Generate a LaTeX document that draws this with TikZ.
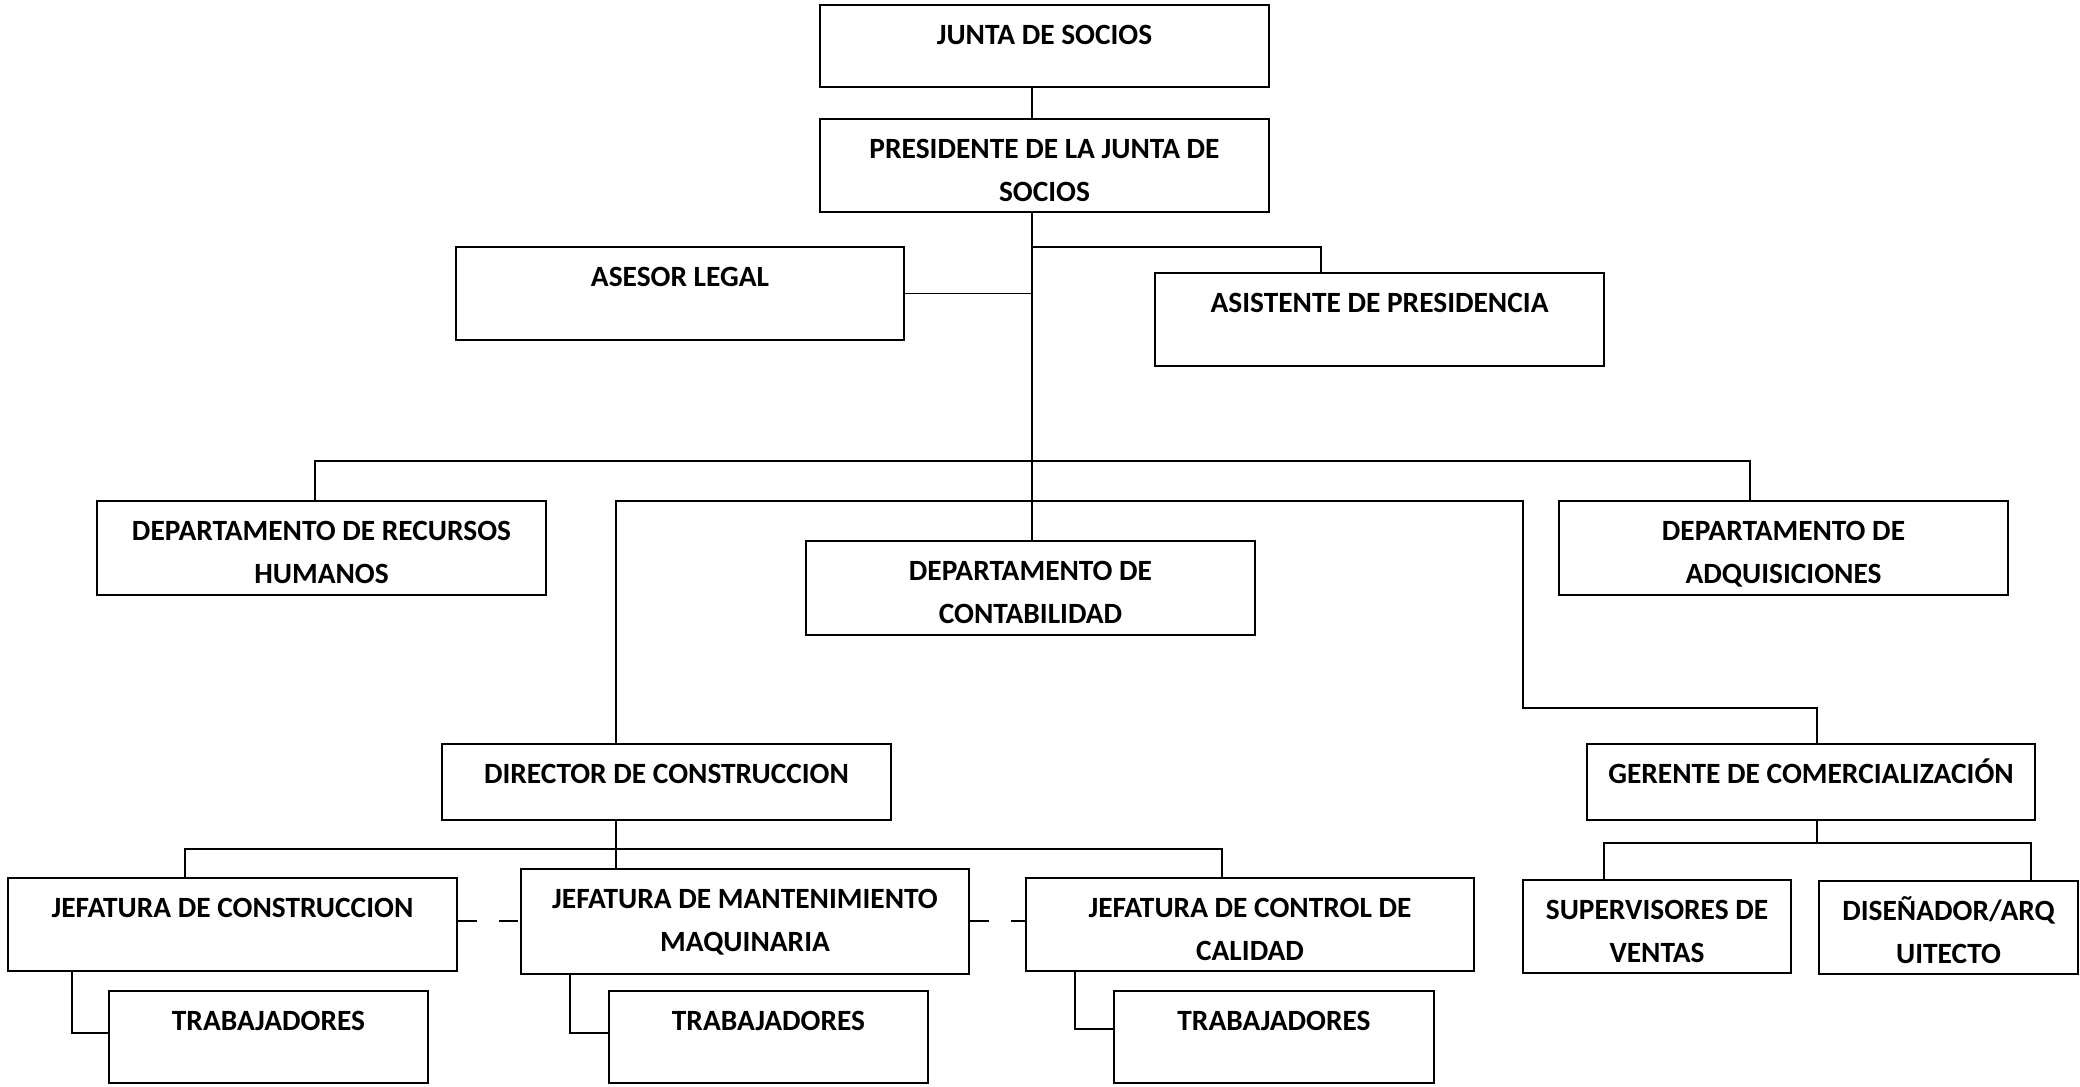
\documentclass[tikz,border=0pt]{standalone}
\usepackage{fontspec}
\setmainfont{Carlito}
\newcommand\orgbox[6]{%
  \node[box, minimum width={(#4-#2)*0.5pt}, minimum height={(#5-#3)*0.5pt}] (#1) at ({(#2+#4)/2},{(#3+#5)/2}) {};
  \node[lbl] (#1-t) at ([yshift=-20.2pt]#1.north) {#6};}
\newcommand\orgboxtwo[6]{%
  \node[box, minimum width={(#4-#2)*0.5pt}, minimum height={(#5-#3)*0.5pt}] (#1) at ({(#2+#4)/2},{(#3+#5)/2}) {};
  \node[lbl] (#1-t) at ([yshift=-41.7pt]#1.north) {#6};}
\begin{document}
\begin{tikzpicture}[x=0.5pt,y=-0.5pt,
  box/.style={draw, line width=0.9pt, inner sep=0pt},
  lbl/.style={font=\bfseries\fontsize{14.7}{21.5}\selectfont, align=center, anchor=base, inner sep=0pt},
  conn/.style={line width=0.7pt},
  dashline/.style={line width=0.7pt, dash pattern=on 9.5pt off 11pt}]
\fill[white] (0,0) rectangle (2080,1086);
\useasboundingbox (0,0) rectangle (2080,1086);
\orgbox{junta}{820}{5}{1269}{87}{JUNTA DE SOCIOS}
\orgboxtwo{pres}{820}{119}{1269}{212}{PRESIDENTE DE LA JUNTA DE\\SOCIOS}
\orgbox{asesor}{456}{247}{904}{340}{ASESOR LEGAL}
\orgbox{asist}{1155}{273}{1604}{366}{ASISTENTE DE PRESIDENCIA}
\orgboxtwo{rrhh}{97}{501}{546}{595}{DEPARTAMENTO DE RECURSOS\\HUMANOS}
\orgboxtwo{conta}{806}{541}{1255}{635}{DEPARTAMENTO DE\\CONTABILIDAD}
\orgboxtwo{adq}{1559}{501}{2008}{595}{DEPARTAMENTO DE\\ADQUISICIONES}
\orgbox{dir}{442}{744}{891}{820}{DIRECTOR DE CONSTRUCCION}
\orgbox{ger}{1587}{744}{2035}{820}{GERENTE DE COMERCIALIZACIÓN}
\orgbox{jcon}{8}{878}{457}{971}{JEFATURA DE CONSTRUCCION}
\orgboxtwo{jman}{521}{869}{969}{974}{JEFATURA DE MANTENIMIENTO\\MAQUINARIA}
\orgboxtwo{jcal}{1026}{878}{1474}{971}{JEFATURA DE CONTROL DE\\CALIDAD}
\orgbox{tone}{109}{991}{428}{1083}{TRABAJADORES}
\orgbox{ttwo}{609}{991}{928}{1083}{TRABAJADORES}
\orgbox{tthree}{1114}{991}{1434}{1083}{TRABAJADORES}
\orgboxtwo{sup}{1523}{880}{1791}{973}{SUPERVISORES DE\\VENTAS}
\orgboxtwo{dis}{1819}{881}{2078}{974}{DISEÑADOR/ARQ\\UITECTO}
% connectors
\coordinate (tx) at (1032,0);
\draw[conn] (junta.south -| tx) -- (pres.north -| tx);
\draw[conn] (pres.south -| tx) -- (conta.north -| tx);
\draw[conn] (asesor.east) -- (asesor.east -| tx);
\coordinate (asx) at (1321,247);
\draw[conn] (tx |- asx) -- (asx) -- (asist.north -| asx);
\coordinate (ra) at (315,461);
\coordinate (rb) at (1750,461);
\draw[conn] (rrhh.north -| ra) -- (ra) -- (rb) -- (adq.north -| rb);
\coordinate (da) at (616,501);
\coordinate (db) at (1523,501);
\coordinate (dc) at (1523,708);
\coordinate (dd) at (1817,708);
\draw[conn] (dir.north -| da) -- (da) -- (db) -- (dc) -- (dd) -- (ger.north -| dd);
\draw[conn] (dir.south -| da) -- (jman.north -| da);
\coordinate (ja) at (185,849);
\coordinate (jb) at (1222,849);
\draw[conn] (jcon.north -| ja) -- (ja) -- (jb) -- (jcal.north -| jb);
\coordinate (dy) at (0,921);
\draw[dashline] (jcon.east |- dy) -- (jman.west |- dy);
\draw[dashline] (jman.east |- dy) -- (jcal.west |- dy);
\coordinate (ka) at (72,1033);
\draw[conn] (jcon.south -| ka) -- (ka) -- (tone.west |- ka);
\coordinate (kb) at (570,1033);
\draw[conn] (jman.south -| kb) -- (kb) -- (ttwo.west |- kb);
\coordinate (kc) at (1075,1029);
\draw[conn] (jcal.south -| kc) -- (kc) -- (tthree.west |- kc);
\coordinate (go) at (1817,843);
\coordinate (ga) at (1604,843);
\coordinate (gb) at (2031,843);
\draw[conn] (ger.south -| go) -- (go);
\draw[conn] (sup.north -| ga) -- (ga) -- (gb) -- (dis.north -| gb);
\end{tikzpicture}
\end{document}
